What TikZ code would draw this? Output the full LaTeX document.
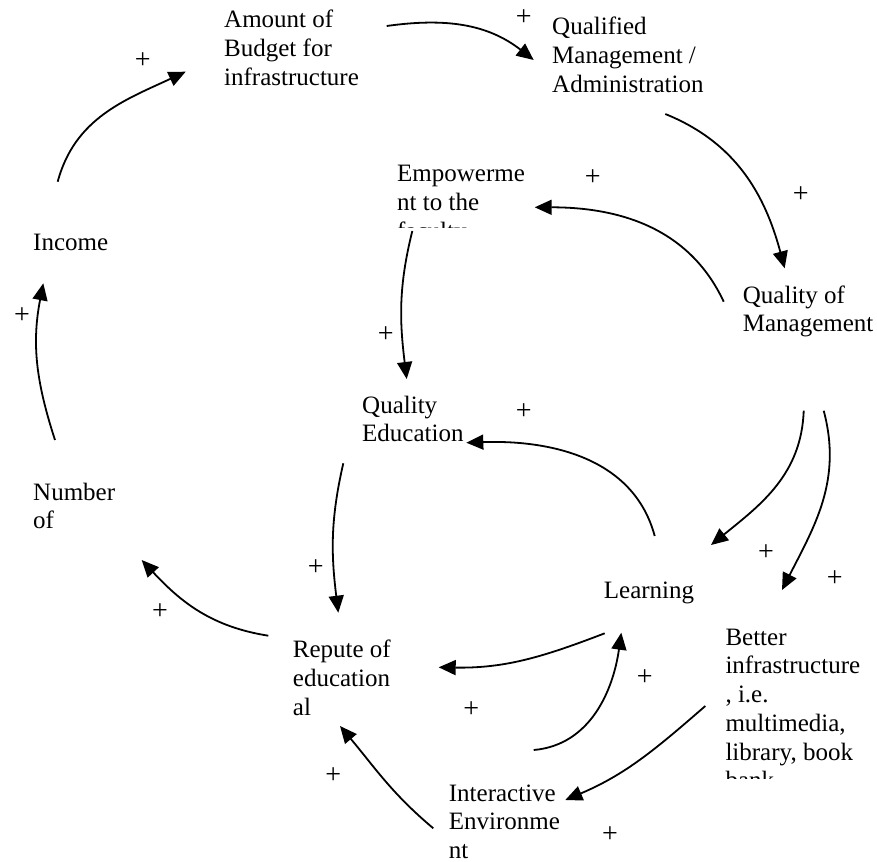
\documentclass[tikz,border=0pt]{standalone}
\usepackage{fontspec}
\setmainfont{Liberation Serif}
\usetikzlibrary{arrows.meta}
\begin{document}
\begin{tikzpicture}[x=1pt,y=1pt,
  lbl/.style={anchor=base west, inner sep=0pt, align=left, font=\fontsize{25}{28.75}\selectfont},
  pl/.style={inner sep=0pt, font=\fontsize{28}{30}\selectfont},
  lnk/.style={line width=1.8pt, -{Triangle[length=17pt,width=15pt]}}]
\useasboundingbox[fill=white] (0,0) rectangle (877,-861);

% ---- variable labels (anchor = baseline of last line) ----
\node[lbl] (amt) at (224,-85.5) {Amount of\\Budget for\\infrastructure};
\node[lbl] (qma) at (552,-92.5) {Qualified\\Management /\\Administration};
\begin{scope}
  \clip (390,-150) rectangle (560,-227.5);
  \node[lbl] (emp) at (397,-239.2) {Empowerme\\nt to the\\faculty};
\end{scope}
\node[lbl] (qom) at (742.7,-331.75) {Quality of\\Management};
\node[lbl] (inc) at (33,-250.7) {Income};
\node[lbl] (qed) at (362,-441.75) {Quality\\Education};
\node[lbl] (num) at (33,-528.75) {Number\\of};
\node[lbl] (rep) at (292.7,-715.2) {Repute of\\education\\al};
\node[lbl] (lrn) at (603.7,-598) {Learning};
\begin{scope}
  \clip (700,-620) rectangle (877,-778);
  \node[lbl] (bet) at (725.3,-788.75) {Better\\infrastructure\\, i.e.\\multimedia,\\library, book\\bank};
\end{scope}
\node[lbl] (int) at (448.7,-858.5) {Interactive\\Environme\\nt};

% ---- connector end points ----
\coordinate (inc-o) at (57.7,-181.7);   \coordinate (amt-i) at (185.7,-71.7);
\coordinate (amt-o) at (386.7,-26);     \coordinate (qma-i) at (533.7,-60);
\coordinate (qma-o) at (665.3,-114);    \coordinate (qom-i) at (784.7,-268.3);
\coordinate (qom-o1) at (723.7,-301.7); \coordinate (emp-i) at (534.7,-207.3);
\coordinate (emp-o) at (412.3,-231);    \coordinate (qed-i) at (406.7,-379);
\coordinate (qom-o2) at (803.7,-410.7); \coordinate (lrn-i1) at (711,-545);
\coordinate (qom-o3) at (823.7,-410.7); \coordinate (bet-i) at (782,-590);
\coordinate (lrn-o1) at (654.7,-536);   \coordinate (qed-i2) at (466.3,-442.7);
\coordinate (qed-o) at (343.3,-463.3);  \coordinate (rep-i1) at (338.3,-612.7);
\coordinate (rep-o) at (268.3,-635.7);  \coordinate (num-i) at (141.7,-560);
\coordinate (lrn-o2) at (604.7,-633.3); \coordinate (rep-i2) at (438.7,-667.3);
\coordinate (int-o1) at (533.7,-750);   \coordinate (lrn-i2) at (621.3,-632.7);
\coordinate (bet-o) at (705.3,-706);    \coordinate (int-i) at (565.3,-800);
\coordinate (int-o2) at (433.3,-828.3); \coordinate (rep-i3) at (340,-726);
\coordinate (num-o) at (55,-440);       \coordinate (inc-i) at (43.3,-283.3);

% ---- connectors ----
\draw[lnk] (inc-o) to[out=75,in=205] (amt-i);
\draw[lnk] (amt-o) to[out=8,in=142] (qma-i);
\draw[lnk] (qma-o) to[out=-22,in=105] (qom-i);
\draw[lnk] (qom-o1) to[out=115,in=0] (emp-i);
\draw[lnk] (emp-o) to[out=-104,in=97] (qed-i);
\draw[lnk] (qom-o2) to[out=-92,in=39] (lrn-i1);
\draw[lnk] (qom-o3) to[out=-75,in=63] (bet-i);
\draw[lnk] (lrn-o1) to[out=105,in=2] (qed-i2);
\draw[lnk] (qed-o) to[out=-103,in=97] (rep-i1);
\draw[lnk] (rep-o) to[out=171,in=-47] (num-i);
\draw[lnk] (lrn-o2) to[out=201,in=-1] (rep-i2);
\draw[lnk] (int-o1) to[out=5,in=-98] (lrn-i2);
\draw[lnk] (bet-o) to[out=221,in=23] (int-i);
\draw[lnk] (int-o2) to[out=140,in=-50] (rep-i3);
\draw[lnk] (num-o) to[out=108,in=-101] (inc-i);

% ---- polarity signs ----
\node[pl] (p1) at (142.7,-61) {+};
\node[pl] (p2) at (523.7,-17.3) {+};
\node[pl] (p3) at (592.7,-177.7) {+};
\node[pl] (p4) at (800.7,-194.3) {+};
\node[pl] (p5) at (22,-316) {+};
\node[pl] (p6) at (385.7,-334.3) {+};
\node[pl] (p7) at (523.7,-411.7) {+};
\node[pl] (p8) at (315.7,-567.7) {+};
\node[pl] (p9) at (160,-611.7) {+};
\node[pl] (p10) at (766,-552.7) {+};
\node[pl] (p11) at (834.7,-579) {+};
\node[pl] (p12) at (644.7,-677.3) {+};
\node[pl] (p13) at (471.3,-710) {+};
\node[pl] (p14) at (333.3,-775.7) {+};
\node[pl] (p15) at (610,-835) {+};
\end{tikzpicture}
\end{document}
